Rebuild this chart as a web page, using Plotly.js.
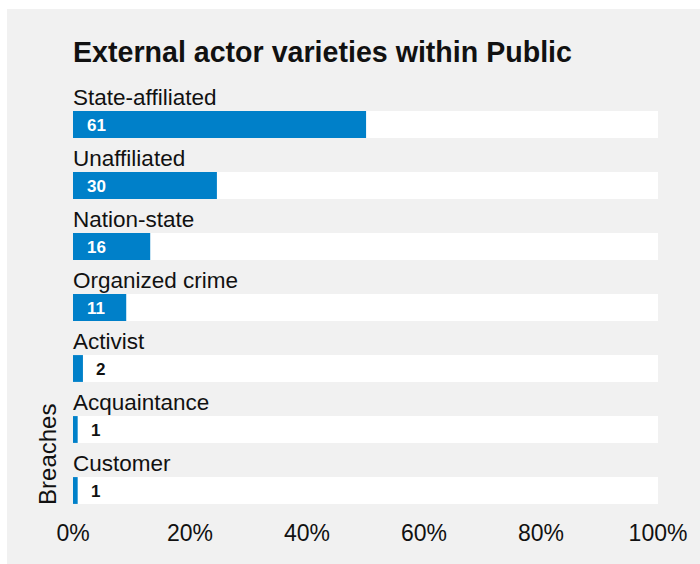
<!DOCTYPE html>
<html>
<head>
<meta charset="utf-8">
<script src="https://cdn.plot.ly/plotly-3.0.1.min.js"></script>
<style>
html,body{margin:0;padding:0;background:#ffffff;width:700px;height:564px;overflow:hidden;}
#chart{position:absolute;left:7px;top:9px;width:693px;height:555px;}
</style>
</head>
<body>
<div id="chart"></div>
<script>
const categories = ['State-affiliated','Unaffiliated','Nation-state','Organized crime','Activist','Acquaintance','Customer'];
const counts = [61, 30, 16, 11, 2, 1, 1];
const percents = [50.1, 24.6, 13.2, 9.1, 1.7, 0.8, 0.8];
const tickValues = [0, 20, 40, 60, 80, 100];
const tickLabels = ['0%', '20%', '40%', '60%', '80%', '100%'];

const BLUE = '#0080c9';
const FONT = 'Liberation Sans, Arial, Helvetica, sans-serif';
const yPos = categories.map((c, i) => -i);

const track = {
  type: 'bar', orientation: 'h',
  x: categories.map(() => 100), y: yPos,
  width: 0.44, marker: {color: '#ffffff'},
  hoverinfo: 'skip', showlegend: false
};
const bars = {
  type: 'bar', orientation: 'h',
  x: percents, y: yPos,
  width: 0.44, marker: {color: BLUE},
  hoverinfo: 'skip', showlegend: false
};

const annotations = [];
categories.forEach((c, i) => {
  annotations.push({
    xref: 'x', yref: 'y', x: 0, y: yPos[i] + 0.445,
    xanchor: 'left', yanchor: 'middle', showarrow: false, xshift: -2,
    text: c, font: {family: FONT, size: 22.5, color: '#111111'}
  });
  const inside = percents[i] > 5;
  annotations.push({
    xref: 'x', yref: 'y', x: inside ? 0 : percents[i], y: yPos[i],
    xanchor: 'left', yanchor: 'middle', showarrow: false,
    xshift: inside ? 12 : 11, yshift: -1,
    text: '<b>' + counts[i] + '</b>',
    font: {family: FONT, size: 17, color: inside ? '#ffffff' : '#111111'}
  });
});
annotations.push({
  xref: 'paper', yref: 'paper', x: 0, y: 0.128, xshift: -25,
  xanchor: 'center', yanchor: 'middle', showarrow: false, textangle: -90,
  text: 'Breaches', font: {family: FONT, size: 24, color: '#111111'}
});

const layout = {
  width: 693, height: 555,
  paper_bgcolor: '#f1f1f1', plot_bgcolor: '#f1f1f1',
  margin: {l: 66, r: 42, t: 71, b: 54, pad: 0},
  barmode: 'overlay',
  title: {
    text: '<b>External actor varieties within Public</b>',
    x: 0, xref: 'paper', xanchor: 'left',
    y: 1 - 43/555, yref: 'container', yanchor: 'middle',
    font: {family: FONT, size: 28.6, color: '#111111'}
  },
  xaxis: {
    range: [0, 100], tickvals: tickValues, ticktext: tickLabels,
    showgrid: false, zeroline: false, showline: false, ticks: '',
    ticklabelstandoff: 7,
    tickfont: {family: FONT, size: 23, color: '#111111'}, fixedrange: true
  },
  yaxis: {
    range: [-6.3197, 0.7295], showticklabels: false, showgrid: false,
    zeroline: false, showline: false, ticks: '', fixedrange: true
  },
  annotations: annotations,
  showlegend: false
};

Plotly.newPlot('chart', [track, bars], layout, {displayModeBar: false, staticPlot: true});
</script>
</body>
</html>
